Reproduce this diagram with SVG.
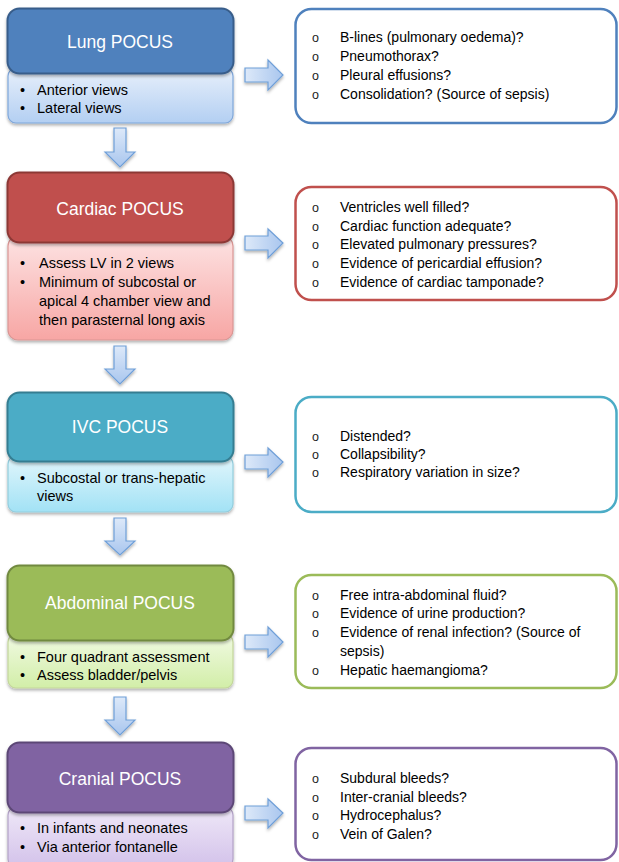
<svg xmlns="http://www.w3.org/2000/svg" width="619" height="862" viewBox="0 0 619 862">
<defs>
<filter id="sh" x="-10%" y="-10%" width="120%" height="130%">
<feDropShadow dx="0" dy="2" stdDeviation="1.5" flood-color="#000" flood-opacity="0.3"/>
</filter>
<linearGradient id="gBlue" x1="0" y1="0" x2="0" y2="1"><stop offset="0" stop-color="#e8f0fb"/><stop offset="1" stop-color="#b3cff2"/></linearGradient>
<linearGradient id="gRed" x1="0" y1="0" x2="0" y2="1"><stop offset="0" stop-color="#fde3e3"/><stop offset="1" stop-color="#f7a6a4"/></linearGradient>
<linearGradient id="gTeal" x1="0" y1="0" x2="0" y2="1"><stop offset="0" stop-color="#e2f6fc"/><stop offset="1" stop-color="#a2e2f5"/></linearGradient>
<linearGradient id="gGreen" x1="0" y1="0" x2="0" y2="1"><stop offset="0" stop-color="#f1fae3"/><stop offset="1" stop-color="#d2eea8"/></linearGradient>
<linearGradient id="gPurple" x1="0" y1="0" x2="0" y2="1"><stop offset="0" stop-color="#efe8f8"/><stop offset="1" stop-color="#d3c2ea"/></linearGradient>
<linearGradient id="gArrH" x1="0" y1="0" x2="1" y2="0"><stop offset="0" stop-color="#dde9f9"/><stop offset="1" stop-color="#a9c6ee"/></linearGradient>
<linearGradient id="gArrV" x1="0" y1="0" x2="0" y2="1"><stop offset="0" stop-color="#dde9f9"/><stop offset="1" stop-color="#a9c6ee"/></linearGradient>
</defs>
<style>
text{font-family:"Liberation Sans",Arial,sans-serif;}
.hd{fill:#ffffff;font-size:17.5px;text-anchor:middle;}
.bt{fill:#000;font-size:14.5px;}
.rt{fill:#000;font-size:14px;}
.ci{fill:#222;font-size:12.5px;}
.hdr{stroke-width:2;filter:url(#sh);}
.sub{stroke-width:1.2;filter:url(#sh);}
.rbox{fill:#fff;stroke-width:2.5;}
.arr{stroke:#6f9fd8;stroke-width:1.2;filter:url(#sh);}
</style>

<g id="connectors">
<path class="arr" fill="url(#gArrV)" d="M114,128 H126 V152 H135 L120,167 L105,152 H114 Z"/>
<path class="arr" fill="url(#gArrV)" d="M114,346 H126 V369 H135 L120,384 L105,369 H114 Z"/>
<path class="arr" fill="url(#gArrV)" d="M114,518 H126 V541 H135 L120,555 L105,541 H114 Z"/>
<path class="arr" fill="url(#gArrV)" d="M114,697 H126 V720 H135 L120,735 L105,720 H114 Z"/>
<path class="arr" fill="url(#gArrH)" d="M245,68 H268 V60 L283,75 L268,90 V82 H245 Z"/>
<path class="arr" fill="url(#gArrH)" d="M245,236 H268 V229 L283,243 L268,258 V250 H245 Z"/>
<path class="arr" fill="url(#gArrH)" d="M245,455 H268 V448 L283,462 L268,477 V469 H245 Z"/>
<path class="arr" fill="url(#gArrH)" d="M245,635 H268 V627 L283,642 L268,657 V649 H245 Z"/>
<path class="arr" fill="url(#gArrH)" d="M245,806 H268 V799 L283,813 L268,828 V820 H245 Z"/>
</g>

<g id="lung">
<rect class="sub" x="8" y="68" width="225" height="55" rx="8" fill="url(#gBlue)" stroke="#7fa7da"/>
<rect class="hdr" x="7.5" y="8.5" width="226" height="65" rx="12" fill="#4f81bd" stroke="#385d8a"/>
<text class="hd" x="120" y="48">Lung POCUS</text>
<text class="bt" x="20" y="95">•</text><text class="bt" x="37" y="95">Anterior views</text>
<text class="bt" x="20" y="113">•</text><text class="bt" x="37" y="113">Lateral views</text>
</g>
<g id="lung-findings">
<rect class="rbox" x="295.5" y="9" width="321" height="114" rx="16" stroke="#4f81bd"/>
<text class="ci" x="312" y="42">o</text><text class="rt" x="340" y="42">B-lines (pulmonary oedema)?</text>
<text class="ci" x="312" y="61">o</text><text class="rt" x="340" y="61">Pneumothorax?</text>
<text class="ci" x="312" y="80">o</text><text class="rt" x="340" y="80">Pleural effusions?</text>
<text class="ci" x="312" y="99">o</text><text class="rt" x="340" y="99">Consolidation? (Source of sepsis)</text>
</g>

<g id="cardiac">
<rect class="sub" x="8" y="236" width="225" height="104" rx="10" fill="url(#gRed)" stroke="#d99694"/>
<rect class="hdr" x="7.5" y="172.5" width="226" height="70" rx="12" fill="#c0504d" stroke="#8c3836"/>
<text class="hd" x="120" y="215">Cardiac POCUS</text>
<text class="bt" x="20" y="268">•</text><text class="bt" x="39" y="268">Assess LV in 2 views</text>
<text class="bt" x="20" y="287">•</text><text class="bt" x="39" y="287">Minimum of subcostal or</text>
<text class="bt" x="39" y="306">apical 4 chamber view and</text>
<text class="bt" x="39" y="325">then parasternal long axis</text>
</g>
<g id="cardiac-findings">
<rect class="rbox" x="295.5" y="187" width="321" height="113" rx="16" stroke="#c0504d"/>
<text class="ci" x="312" y="212">o</text><text class="rt" x="340" y="212">Ventricles well filled?</text>
<text class="ci" x="312" y="231">o</text><text class="rt" x="340" y="231">Cardiac function adequate?</text>
<text class="ci" x="312" y="249">o</text><text class="rt" x="340" y="249">Elevated pulmonary pressures?</text>
<text class="ci" x="312" y="268">o</text><text class="rt" x="340" y="268">Evidence of pericardial effusion?</text>
<text class="ci" x="312" y="287">o</text><text class="rt" x="340" y="287">Evidence of cardiac tamponade?</text>
</g>

<g id="ivc">
<rect class="sub" x="8" y="456" width="225" height="56" rx="8" fill="url(#gTeal)" stroke="#93cddd"/>
<rect class="hdr" x="7.5" y="392.5" width="226" height="69" rx="12" fill="#4bacc6" stroke="#357d91"/>
<text class="hd" x="120" y="433">IVC POCUS</text>
<text class="bt" x="20" y="483">•</text><text class="bt" x="37" y="483">Subcostal or trans-hepatic</text>
<text class="bt" x="37" y="501">views</text>
</g>
<g id="ivc-findings">
<rect class="rbox" x="295.5" y="397" width="321" height="115" rx="16" stroke="#4bacc6"/>
<text class="ci" x="312" y="441">o</text><text class="rt" x="340" y="441">Distended?</text>
<text class="ci" x="312" y="459">o</text><text class="rt" x="340" y="459">Collapsibility?</text>
<text class="ci" x="312" y="477">o</text><text class="rt" x="340" y="477">Respiratory variation in size?</text>
</g>

<g id="abdominal">
<rect class="sub" x="8" y="634" width="225" height="54" rx="8" fill="url(#gGreen)" stroke="#c3d69b"/>
<rect class="hdr" x="7.5" y="565.5" width="226" height="75" rx="12" fill="#9bbb59" stroke="#71893f"/>
<text class="hd" x="120" y="609">Abdominal POCUS</text>
<text class="bt" x="20" y="662">•</text><text class="bt" x="37" y="662">Four quadrant assessment</text>
<text class="bt" x="20" y="680">•</text><text class="bt" x="37" y="680">Assess bladder/pelvis</text>
</g>
<g id="abdominal-findings">
<rect class="rbox" x="295.5" y="575" width="321" height="113" rx="16" stroke="#9bbb59"/>
<text class="ci" x="312" y="600">o</text><text class="rt" x="340" y="600">Free intra-abdominal fluid?</text>
<text class="ci" x="312" y="618">o</text><text class="rt" x="340" y="618">Evidence of urine production?</text>
<text class="ci" x="312" y="637">o</text><text class="rt" x="340" y="637">Evidence of renal infection? (Source of</text>
<text class="rt" x="340" y="656">sepsis)</text>
<text class="ci" x="312" y="675">o</text><text class="rt" x="340" y="675">Hepatic haemangioma?</text>
</g>

<g id="cranial">
<rect class="sub" x="8" y="807" width="225" height="60" rx="8" fill="url(#gPurple)" stroke="#b3a2c7"/>
<rect class="hdr" x="7.5" y="742.5" width="226" height="70" rx="12" fill="#8064a2" stroke="#5c4776"/>
<text class="hd" x="120" y="785">Cranial POCUS</text>
<text class="bt" x="20" y="833">•</text><text class="bt" x="37" y="833">In infants and neonates</text>
<text class="bt" x="20" y="852">•</text><text class="bt" x="37" y="852">Via anterior fontanelle</text>
</g>
<g id="cranial-findings">
<rect class="rbox" x="295.5" y="748" width="321" height="112" rx="16" stroke="#8064a2"/>
<text class="ci" x="312" y="783">o</text><text class="rt" x="340" y="783">Subdural bleeds?</text>
<text class="ci" x="312" y="802">o</text><text class="rt" x="340" y="802">Inter-cranial bleeds?</text>
<text class="ci" x="312" y="820">o</text><text class="rt" x="340" y="820">Hydrocephalus?</text>
<text class="ci" x="312" y="839">o</text><text class="rt" x="340" y="839">Vein of Galen?</text>
</g>
</svg>
